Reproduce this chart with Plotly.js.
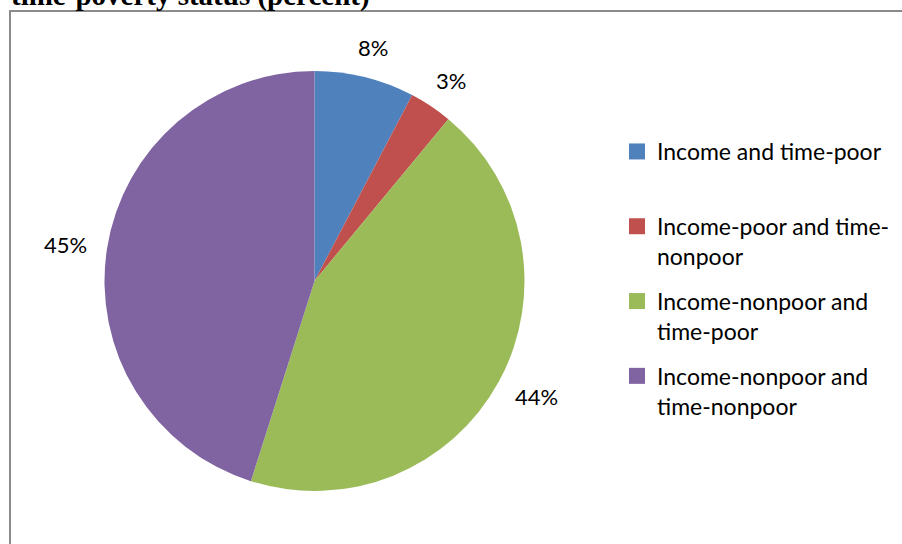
<!DOCTYPE html>
<html><head><meta charset="utf-8">
<script src="https://cdn.plot.ly/plotly-3.0.1.min.js"></script>
<style>html,body{margin:0;padding:0;background:#fff}</style>
</head><body>
<div id="chart" style="width:902px;height:544px"></div>
<script>
var categories = ["Income and time-poor<br> ", "Income-poor and time-<br>nonpoor", "Income-nonpoor and<br>time-poor", "Income-nonpoor and<br>time-nonpoor"];
var shares = [7.7, 3.3, 43.9, 45.1];
var colors = ["#4F81BD", "#C0504D", "#9BBB59", "#8064A2"];
var titleText = "time-poverty status (percent)";

var W = 902, H = 544;
// pie geometry (pixels)
var cx = 314.5, cy = 281, r = 210;
var labelFont = {family: "Lato, sans-serif", size: 22, color: "#000"};
var legendFont = {family: "Lato, sans-serif", size: 23, color: "#000"};

var pie = {
  type: "pie",
  labels: categories,
  values: shares,
  sort: false,
  direction: "clockwise",
  rotation: 0,
  marker: {colors: colors, line: {width: 0}},
  textinfo: "none",
  hoverinfo: "none",
  showlegend: false,
  domain: {x: [(cx - r)/W, (cx + r)/W], y: [(H - cy - r)/H, (H - cy + r)/H]}
};

// legend entries
var legendTraces = categories.map(function (c, i) {
  return {
    type: "scatter", mode: "markers", x: [null], y: [null],
    name: c, legendgroup: "g" + i,
    marker: {symbol: "square", size: 16, color: colors[i]},
    hoverinfo: "none"
  };
});

// data labels outside the slice ends (outside-end placement)
var total = shares.reduce(function (a, b) { return a + b; }, 0);
var cum = 0;
var labelAnn = shares.map(function (v) {
  var mid = (cum + v / 2) / total;
  cum += v;
  var th = 2 * Math.PI * mid;
  var R = r + 22;
  var txt = Math.round(v / total * 100) + "%";
  var w = txt.length * 0.62 * labelFont.size, h = 18;
  var px = cx + R * Math.sin(th) + (w / 2) * Math.sin(th);
  var py = cy - R * Math.cos(th) - (h / 2) * Math.cos(th);
  return {
    text: txt, xref: "paper", yref: "paper",
    x: px / W, y: 1 - py / H, xanchor: "center", yanchor: "middle",
    showarrow: false, font: labelFont
  };
});

var layout = {
  width: W, height: H,
  margin: {l: 0, r: 0, t: 0, b: 0},
  paper_bgcolor: "#fff", plot_bgcolor: "rgba(0,0,0,0)",
  xaxis: {visible: false, domain: [0, 1]},
  yaxis: {visible: false, domain: [0, 1]},
  showlegend: true,
  legend: {
    x: 617/W, xanchor: "left", y: (H - 130)/H, yanchor: "top",
    font: legendFont, valign: "top",
    traceorder: "grouped", tracegroupgap: 12, itemclick: false,
    bgcolor: "rgba(0,0,0,0)"
  },
  shapes: [{
    type: "rect", xref: "paper", yref: "paper",
    x0: 10/W, x1: 1.01, y0: -0.01, y1: (H - 11)/H,
    line: {color: "#8a8a8a", width: 2}, fillcolor: "rgba(0,0,0,0)"
  }],
  annotations: [{
    text: "<b>" + titleText + "</b>", xref: "paper", yref: "paper",
    x: 9/W, xanchor: "left", y: (H - 14)/H, yanchor: "bottom", showarrow: false,
    font: {family: "Liberation Serif, serif", size: 29, color: "#000"}
  }].concat(labelAnn)
};
Plotly.newPlot("chart", [pie].concat(legendTraces), layout, {displayModeBar: false, staticPlot: true});
</script>
</body></html>
